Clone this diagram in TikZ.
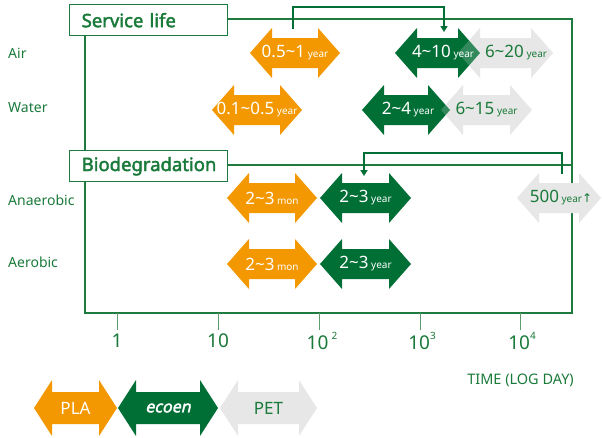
\documentclass[tikz,border=0pt]{standalone}
\usepackage{fontspec}
\setmainfont{Noto Sans}[AutoFakeBold=2.2,AutoFakeSlant=0.22]
\newfontfamily\dejavu{DejaVu Sans}
\usetikzlibrary{arrows.meta}
\definecolor{plaor}{HTML}{F39800}
\definecolor{ecogr}{HTML}{006F36}
\definecolor{petgy}{HTML}{E6E7E6}
\definecolor{txtgr}{HTML}{1A7A3A}
\definecolor{framegr}{HTML}{1F7A40}
\definecolor{tickgr}{HTML}{5E9C70}
\newcommand\dblarrow[8]{%
  \fill[#8] (#2,#4) -- ++(#5,-#6) -- ++(0,#6-#7) -- (#3-#5,#4-#7) -- ++(0,#7-#6)
    -- (#3,#4) -- ++(-#5,#6) -- ++(0,#7-#6) -- (#2+#5,#4+#7) -- ++(0,#6-#7) -- cycle;
  \coordinate (#1) at ({(#2+#3)/2},#4);
}
\newcommand\bignum[1]{{\fontsize{17}{17}\selectfont #1}}
\newcommand\smtxt[1]{{\fontsize{10}{10}\selectfont #1}}
\newcommand\tl{\textasciitilde}
\begin{document}
\begin{tikzpicture}[x=1pt,y=-1pt,
  frame/.style={draw=framegr,line width=1.2pt},
  conn/.style={draw=ecogr,line width=2.2pt,-{Triangle[width=7pt,length=6pt]}},
  titlebox/.style={draw=framegr,line width=1.4pt,fill=white,minimum height=31pt,
     text width=134pt,inner xsep=12pt,align=left,anchor=north west,
     font=\fontsize{18.5}{18.5}\selectfont\bfseries,text=txtgr},
  rowlab/.style={anchor=west,inner sep=0pt,font=\fontsize{14}{14}\selectfont,text=txtgr},
  wtxt/.style={inner sep=0pt,text=white},
  gtxt/.style={inner sep=0pt,text=txtgr},
  ticklab/.style={inner sep=0pt,font=\fontsize{19}{19}\selectfont,text=txtgr},
  tickln/.style={draw=tickgr,line width=1pt},
  orarrow/.style={fill=plaor},
  grarrow/.style={fill=ecogr},
  gyarrow/.style={fill=petgy},
  gyveil/.style={fill=petgy,fill opacity=0.22}
]
\useasboundingbox (0,0) rectangle (602,437);
% frame
\coordinate (TR) at (572,19);
\coordinate (BR) at (572,313);
\coordinate (BL) at (85,313);
\draw[frame] (227,19) -- (TR) -- (BR) -- (BL) -- (85,35);
\draw[frame] (227,165) -- (572,165);
\node[titlebox] (sl) at (69,4) {Service life};
\node[titlebox] (bd) at (69,150) {Biodegradation};
% row labels
\node[rowlab] (lair) at (8,53) {Air};
\node[rowlab] (lwat) at (8,108) {Water};
\node[rowlab] (lana) at (8,200) {Anaerobic};
\node[rowlab] (laer) at (8,262) {Aerobic};
% Air row
\dblarrow{a1}{250}{340}{53}{22}{25}{15}{orarrow}
\dblarrow{p1}{458}{553}{53}{22}{25}{15}{gyarrow}
\dblarrow{e1}{395}{480}{53}{22}{25}{15}{grarrow}
\dblarrow{p1v}{458}{553}{53}{22}{25}{15}{gyveil}
\node[wtxt] (ta1) at (a1) {\bignum{0.5\tl1} \smtxt{year}};
\node[gtxt] (tp1) at (516,53) {\bignum{6\tl20} \smtxt{year}};
\node[wtxt] (te1) at (443,53) {\bignum{4\tl10} \smtxt{year}};
% Water row
\dblarrow{a2}{212}{302}{110}{22}{25}{15}{orarrow}
\dblarrow{p2}{441}{532}{110}{22}{25}{15}{gyarrow}
\dblarrow{e2}{362}{450}{110}{22}{25}{15}{grarrow}
\dblarrow{p2v}{441}{532}{110}{22}{25}{15}{gyveil}
\node[wtxt] (ta2) at (a2) {\bignum{0.1\tl0.5} \smtxt{year}};
\node[gtxt] (tp2) at (p2) {\bignum{6\tl15} \smtxt{year}};
\node[wtxt] (te2) at (408,110) {\bignum{2\tl4} \smtxt{year}};
% Anaerobic row
\dblarrow{a3}{227}{317}{198}{22}{25}{15}{orarrow}
\dblarrow{e3}{320}{411}{198}{22}{25}{15}{grarrow}
\dblarrow{p3}{517}{601}{198}{22}{25}{15}{gyarrow}
\node[wtxt] (ta3) at (a3) {\bignum{2\tl3} \smtxt{mon}};
\node[wtxt] (te3) at (e3) {\bignum{2\tl3} \smtxt{year}};
\node[gtxt] (tp3) at (561,198) {\bignum{500} \smtxt{year}{\dejavu\fontsize{12}{12}\selectfont ↑}};
% Aerobic row
\dblarrow{a4}{227}{317}{264}{22}{25}{15}{orarrow}
\dblarrow{e4}{320}{411}{264}{22}{25}{15}{grarrow}
\node[wtxt] (ta4) at (a4) {\bignum{2\tl3} \smtxt{mon}};
\node[wtxt] (te4) at (e4) {\bignum{2\tl3} \smtxt{year}};
% connectors
\coordinate (cA0) at (293,29);
\coordinate (cA1) at (444,32);
\draw[conn] (cA0) -- ++(0,-22) -| (cA1);
\coordinate (cB0) at (562,174);
\coordinate (cB1) at (364,176);
\draw[conn] (cB0) -- ++(0,-21) -| (cB1);
% ticks
\draw[tickln] (117,313) -- (117,330);
\draw[tickln] (218,313) -- (218,330);
\draw[tickln] (319,313) -- (319,330);
\draw[tickln] (420,313) -- (420,330);
\draw[tickln] (520,313) -- (520,330);
\node[ticklab] (k0) at (117,341) {1};
\node[ticklab] (k1) at (218,341) {10};
\node[ticklab] (k2) at (322,341) {10\,\raisebox{0.55em}{\fontsize{10}{10}\selectfont 2}};
\node[ticklab] (k3) at (422,341) {10\raisebox{0.55em}{\fontsize{10}{10}\selectfont 3}};
\node[ticklab] (k4) at (522,341) {10\raisebox{0.55em}{\fontsize{10}{10}\selectfont 4}};
\node[anchor=east,inner sep=0pt,font=\fontsize{14.5}{14.5}\selectfont,text=txtgr] (time) at (574,380) {TIME (LOG DAY)};
% legend
\dblarrow{lg1}{34}{117}{408}{18}{28}{16}{orarrow}
\dblarrow{lg2}{118}{218}{408}{18}{28}{16}{grarrow}
\dblarrow{lg3}{220}{317}{408}{18}{28}{16}{gyarrow}
\node[wtxt,font=\fontsize{17}{17}\selectfont] (tl1) at (lg1) {PLA};
\node[wtxt,font=\fontsize{16}{16}\selectfont\bfseries\itshape] (tl2) at (lg2) {ecoen};
\node[gtxt,font=\fontsize{17}{17}\selectfont] (tl3) at (lg3) {PET};
\end{tikzpicture}
\end{document}
